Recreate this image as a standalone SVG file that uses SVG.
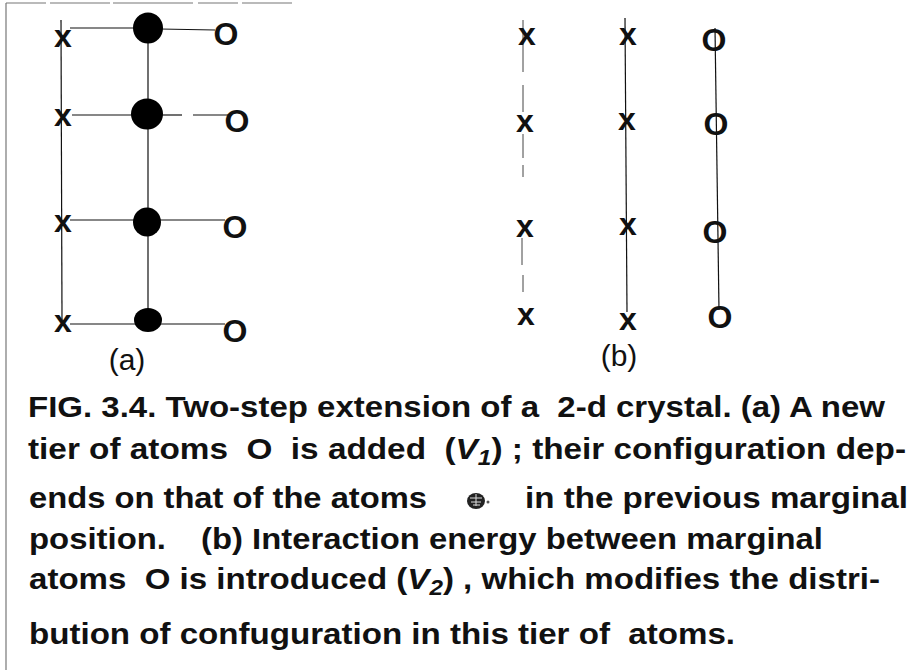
<svg xmlns="http://www.w3.org/2000/svg" width="910" height="670" viewBox="0 0 910 670">
<style>
.ln{stroke:#111;stroke-width:1.2;fill:none}
.fr{stroke:#777;stroke-width:1.2;fill:none}
.dash{stroke:#444;stroke-width:1;fill:none}
.xm{font-family:"Liberation Sans",Arial,sans-serif;font-weight:bold;font-size:32px;fill:#111;text-anchor:middle}
.om{font-family:"Liberation Sans",Arial,sans-serif;font-weight:bold;font-size:32px;fill:#111;text-anchor:middle}
.lab{font-family:"Liberation Sans",Arial,sans-serif;font-size:30px;fill:#111;text-anchor:middle}
.cap{font-family:"Liberation Sans",Arial,sans-serif;font-weight:bold;font-size:30px;fill:#111;white-space:pre}
.it{font-style:italic}
</style>
<rect width="910" height="670" fill="#fff"/>
<g id="frame">
<line class="fr" x1="6" y1="3" x2="6" y2="670"/>
<line class="fr" x1="6" y1="3" x2="292" y2="3" stroke-dasharray="40 4 60 3 80 5"/>
</g>
<g id="connectors">
<line class="ln" x1="61" y1="20" x2="62" y2="320"/>
<line class="ln" x1="148" y1="28" x2="148" y2="320"/>
<line class="ln" x1="70" y1="28" x2="135" y2="28"/>
<line class="ln" x1="160" y1="29" x2="215" y2="30"/>
<line class="ln" x1="72" y1="115" x2="133" y2="115"/>
<line class="ln" x1="160" y1="115" x2="182" y2="115"/>
<line class="ln" x1="193" y1="115" x2="228" y2="115"/>
<line class="ln" x1="70" y1="220" x2="135" y2="220"/>
<line class="ln" x1="160" y1="220" x2="225" y2="220"/>
<line class="ln" x1="70" y1="324" x2="135" y2="324"/>
<line class="ln" x1="160" y1="324" x2="225" y2="324"/>
<g class="dash">
<line x1="523" y1="20" x2="523" y2="72"/>
<line x1="523" y1="85" x2="523" y2="112"/>
<line x1="523" y1="134" x2="523" y2="158"/>
<line x1="523" y1="165" x2="523" y2="177"/>
<line x1="522" y1="238" x2="522" y2="265"/>
<line x1="523" y1="275" x2="523" y2="292"/>
</g>
<line class="ln" x1="625" y1="18" x2="627" y2="312"/>
<line class="ln" x1="715" y1="28" x2="719" y2="310"/>
</g>
<g id="panel-a">
<g id="a-x1"><text class="xm" x="63" y="47">x</text></g>
<g id="a-x2"><text class="xm" x="63" y="126">x</text></g>
<g id="a-x3"><text class="xm" x="63" y="232">x</text></g>
<g id="a-x4"><text class="xm" x="63" y="332">x</text></g>
<g id="a-c1"><ellipse cx="148" cy="28" rx="15" ry="15.5" fill="#000"/></g>
<g id="a-c2"><ellipse cx="147" cy="114" rx="16" ry="15.5" fill="#000"/></g>
<g id="a-c3"><ellipse cx="147" cy="222" rx="14" ry="14.5" fill="#000"/></g>
<g id="a-c4"><ellipse cx="148" cy="320" rx="14" ry="12" fill="#000"/></g>
<g id="a-o1"><text class="om" x="226" y="45">O</text></g>
<g id="a-o2"><text class="om" x="237" y="132">O</text></g>
<g id="a-o3"><text class="om" x="235" y="238">O</text></g>
<g id="a-o4"><text class="om" x="235" y="342">O</text></g>
<g id="a-label"><text class="lab" x="127" y="370">(a)</text></g>
</g>
<g id="panel-b">
<g id="b-x11"><text class="xm" x="527" y="45">x</text></g>
<g id="b-x12"><text class="xm" x="525" y="132">x</text></g>
<g id="b-x13"><text class="xm" x="525" y="237">x</text></g>
<g id="b-x14"><text class="xm" x="526" y="325">x</text></g>
<g id="b-x21"><text class="xm" x="628" y="45">x</text></g>
<g id="b-x22"><text class="xm" x="627" y="130">x</text></g>
<g id="b-x23"><text class="xm" x="628" y="235">x</text></g>
<g id="b-x24"><text class="xm" x="628" y="330">x</text></g>
<g id="b-o1"><text class="om" x="714" y="51">O</text></g>
<g id="b-o2"><text class="om" x="716" y="135">O</text></g>
<g id="b-o3"><text class="om" x="715" y="243">O</text></g>
<g id="b-o4"><text class="om" x="720" y="328">O</text></g>
<g id="b-label"><text class="lab" x="619" y="366">(b)</text></g>
</g>
<g id="caption">
<text class="cap" x="28" y="417" textLength="857" lengthAdjust="spacingAndGlyphs">FIG. 3.4. Two-step extension of a  2-d crystal. (a) A new</text>
<text class="cap" x="28" y="459" textLength="878" lengthAdjust="spacingAndGlyphs">tier of atoms  O  is added  (<tspan class="it">V</tspan><tspan class="it" font-size="22" dy="6">1</tspan><tspan dy="-6">) ; their configuration dep-</tspan></text>
<text class="cap" x="29" y="508" textLength="398" lengthAdjust="spacingAndGlyphs">ends on that of the atoms</text>
<g id="icon">
<ellipse cx="476" cy="501" rx="9" ry="8" fill="#222"/>
<path d="M470 498h12M471 502h10M473 505h7M476 494v12" stroke="#ddd" stroke-width="1" fill="none"/>
<circle cx="488" cy="502" r="1.5" fill="#555"/>
</g>
<text class="cap" x="525" y="508" textLength="383" lengthAdjust="spacingAndGlyphs">in the previous marginal</text>
<text class="cap" x="29" y="549" textLength="137" lengthAdjust="spacingAndGlyphs">position.</text>
<text class="cap" x="201" y="549" textLength="622" lengthAdjust="spacingAndGlyphs">(b) Interaction energy between marginal</text>
<text class="cap" x="29" y="589" textLength="851" lengthAdjust="spacingAndGlyphs">atoms  O is introduced (<tspan class="it">V</tspan><tspan class="it" font-size="22" dy="6">2</tspan><tspan dy="-6">) , which modifies the distri-</tspan></text>
<text class="cap" x="29" y="644" textLength="706" lengthAdjust="spacingAndGlyphs">bution of confuguration in this tier of  atoms.</text>
</g>
</svg>
